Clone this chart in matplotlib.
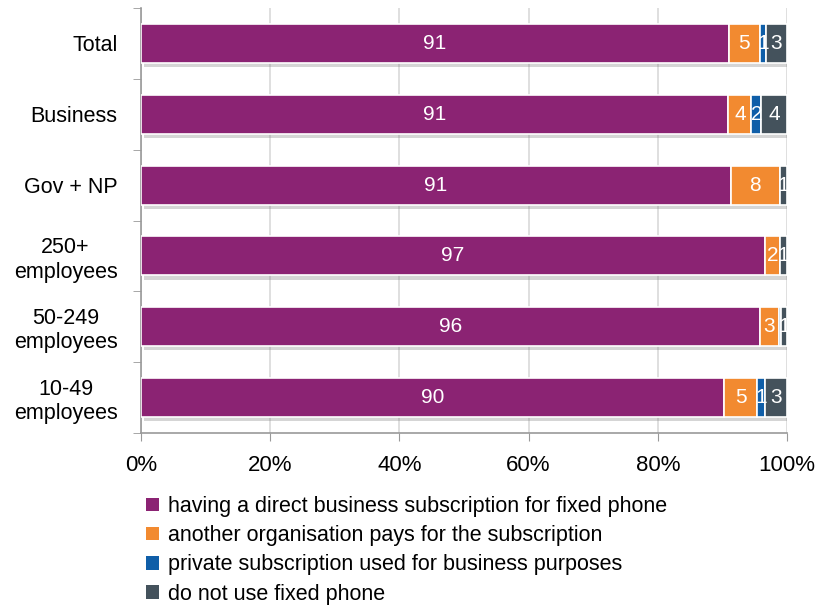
import matplotlib
matplotlib.use("Agg")
import matplotlib.pyplot as plt
import matplotlib.patheffects as pe
from matplotlib.patches import Patch
from matplotlib.ticker import FixedLocator, PercentFormatter
import numpy as np

plt.rcParams["font.family"] = ["Liberation Sans Narrow", "Liberation Sans", "DejaVu Sans"]

categories = ["Total", "Business", "Gov + NP", "250+\nemployees",
              "50-249\nemployees", "10-49\nemployees"]
direct = [91.0, 90.9, 91.3, 96.6, 95.8, 90.2]
other_org = [4.8, 3.6, 7.6, 2.3, 3.0, 5.2]
private = [0.9, 1.5, 0.0, 0.0, 0.2, 1.2]
no_phone = [3.3, 4.0, 1.1, 1.1, 1.0, 3.4]

series = [
    ("having a direct business subscription for fixed phone", direct, "#8B2373"),
    ("another organisation pays for the subscription", other_org, "#F28A30"),
    ("private subscription used for business purposes", private, "#0F5EA8"),
    ("do not use fixed phone", no_phone, "#44525C"),
]

fig = plt.figure(figsize=(8.16, 6.07), dpi=100)
ax = fig.add_axes([141 / 816, 1 - 433 / 607, 646 / 816, 425 / 607])

y = np.arange(len(categories))
left = np.zeros(len(categories))
shadow = [pe.SimplePatchShadow(offset=(2, -3), shadow_rgbFace="#888888", alpha=0.35), pe.Normal()]
for name, vals, color in series:
    vals = np.array(vals)
    bars = ax.barh(y, vals, left=left, height=0.55, color=color,
                   edgecolor="white", linewidth=1.2, zorder=3)
    for b in bars:
        b.set_path_effects(shadow)
    for yi, l, v in zip(y, left, vals):
        if v >= 0.5:
            ax.text(l + v / 2, yi, f"{v:.0f}", ha="center", va="center",
                    color="white", fontsize=15, zorder=5)
    left += vals

ax.set_xlim(0, 100)
ax.set_ylim(len(categories) - 0.5, -0.5)
ax.xaxis.set_major_locator(FixedLocator([0, 20, 40, 60, 80, 100]))
ax.xaxis.set_major_formatter(PercentFormatter(decimals=0))
ax.set_yticks(y)
ax.set_yticklabels(categories)
ax.yaxis.set_minor_locator(FixedLocator(np.arange(-0.5, len(categories), 1.0)))
ax.tick_params(axis="y", which="major", length=0, pad=17, labelsize=15.5)
ax.tick_params(axis="y", which="minor", length=6, color="#999999")
ax.tick_params(axis="x", length=6, color="#999999", labelsize=16, pad=10)
for lab in ax.get_yticklabels():
    lab.set_multialignment("center")

ax.grid(axis="x", color="#D9D9D9", linewidth=1.2, zorder=0)
ax.set_axisbelow(True)
for s in ["top", "right"]:
    ax.spines[s].set_visible(False)
for s in ["left", "bottom"]:
    ax.spines[s].set_color("#999999")
    ax.spines[s].set_linewidth(1.2)

handles = [Patch(facecolor=c, edgecolor="none", label=n) for n, _, c in series]
fig.legend(handles=handles, loc="upper left", bbox_to_anchor=(146 / 816, 1 - 496 / 607),
           frameon=False, fontsize=15.5, handlelength=0.6, handleheight=0.6,
           handletextpad=0.4, labelspacing=0.38, borderaxespad=0, borderpad=0)

fig.savefig("out.png", dpi=100)
